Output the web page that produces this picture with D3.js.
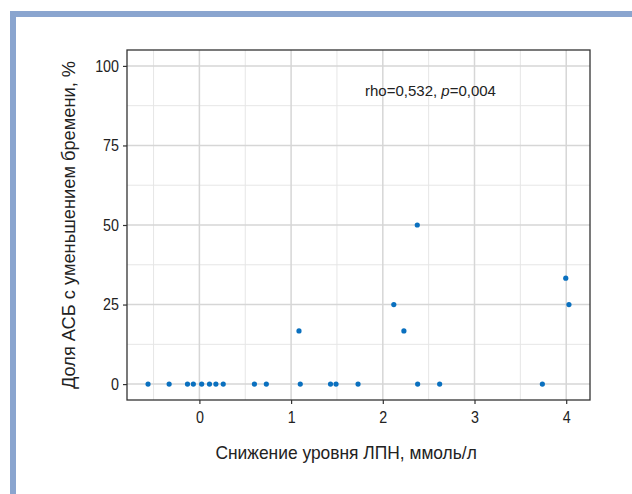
<!DOCTYPE html>
<html>
<head>
<meta charset="utf-8">
<script src="https://cdn.jsdelivr.net/npm/d3@7"></script>
<style>
  html, body { margin: 0; padding: 0; background: #fff; }
  svg text { font-family: "Liberation Sans", Arial, sans-serif; fill: #222; }
</style>
</head>
<body>
<svg id="chart" width="632" height="494"></svg>
<script>
// LDL reduction (mmol/L) per patient
const ldlDrop = [-0.56, -0.33, -0.13, -0.066, 0.025, 0.11, 0.18, 0.26, 0.60, 0.73,
                 1.10, 1.43, 1.49, 1.73, 2.38, 2.62, 3.74,
                 1.086, 2.12, 2.23, 2.376, 3.995, 4.03];
// Share of plaques with reduced burden (%)
const plaqueShare = [0, 0, 0, 0, 0, 0, 0, 0, 0, 0,
                     0, 0, 0, 0, 0, 0, 0,
                     16.7, 25, 16.7, 50, 33.3, 25];
const xTicks = [0, 1, 2, 3, 4];
const yTicks = [0, 25, 50, 75, 100];
const xMinor = [-0.5, 0.5, 1.5, 2.5, 3.5];
const yMinor = [12.5, 37.5, 62.5, 87.5];

const svg = d3.select("#chart");

// narrow the glyphs of a text element to a share of its natural width
function condense(sel, k) {
  sel.each(function () {
    const w = this.getComputedTextLength();
    d3.select(this).attr("textLength", w * k).attr("lengthAdjust", "spacingAndGlyphs");
  });
}

// decorative frame
svg.append("rect").attr("x", 13).attr("y", 14).attr("width", 640).attr("height", 500)
  .attr("fill", "none").attr("stroke", "#8aa5cf").attr("stroke-width", 6);

const panel = { left: 127, right: 590, top: 50, bottom: 400 };

const xr = d3.extent(ldlDrop);
const xPad = (xr[1] - xr[0]) * 0.05;
const x = d3.scaleLinear().domain([xr[0] - xPad, xr[1] + xPad]).range([panel.left, panel.right]);
const y = d3.scaleLinear().domain([-5, 105]).range([panel.bottom, panel.top]);

const g = svg.append("g");

// grid
g.selectAll(".vminor").data(xMinor).join("line")
  .attr("x1", d => x(d)).attr("x2", d => x(d)).attr("y1", panel.top).attr("y2", panel.bottom)
  .attr("stroke", "#e6e6e6").attr("stroke-width", 1);
g.selectAll(".hminor").data(yMinor).join("line")
  .attr("y1", d => y(d)).attr("y2", d => y(d)).attr("x1", panel.left).attr("x2", panel.right)
  .attr("stroke", "#e6e6e6").attr("stroke-width", 1);
g.selectAll(".vmajor").data(xTicks).join("line")
  .attr("x1", d => x(d)).attr("x2", d => x(d)).attr("y1", panel.top).attr("y2", panel.bottom)
  .attr("stroke", "#d6d6d6").attr("stroke-width", 1.5);
g.selectAll(".hmajor").data(yTicks).join("line")
  .attr("y1", d => y(d)).attr("y2", d => y(d)).attr("x1", panel.left).attr("x2", panel.right)
  .attr("stroke", "#d6d6d6").attr("stroke-width", 1.5);

// points
g.selectAll("circle").data(ldlDrop).join("circle")
  .attr("cx", d => x(d)).attr("cy", (d, i) => y(plaqueShare[i])).attr("r", 2.6)
  .attr("fill", "#0a70bf");

// panel border
g.append("rect").attr("x", panel.left).attr("y", panel.top)
  .attr("width", panel.right - panel.left).attr("height", panel.bottom - panel.top)
  .attr("fill", "none").attr("stroke", "#333").attr("stroke-width", 1.3);

// axes
const xAxis = svg.append("g").attr("transform", `translate(0,${panel.bottom})`)
  .call(d3.axisBottom(x).tickValues(xTicks).tickSize(4).tickPadding(7).tickFormat(d3.format("d")));
const yAxis = svg.append("g").attr("transform", `translate(${panel.left},0)`)
  .call(d3.axisLeft(y).tickValues(yTicks).tickSize(4).tickPadding(4).tickFormat(d3.format("d")));
[xAxis, yAxis].forEach(a => {
  a.select(".domain").remove();
  a.selectAll(".tick line").attr("stroke", "#333").attr("stroke-width", 1.2);
  a.selectAll(".tick text").attr("font-size", 17).attr("fill", "#333").call(condense, 0.84);
});

// axis titles
svg.append("text").attr("x", x(1.6)).attr("y", 459).attr("text-anchor", "middle")
  .attr("font-size", 19).text("Снижение уровня ЛПН, ммоль/л").call(condense, 0.915);
svg.append("text").attr("transform", `translate(75,${y(50)}) rotate(-90)`)
  .attr("text-anchor", "middle").attr("font-size", 19)
  .text("Доля АСБ с уменьшением бремени, %").call(condense, 0.96);

// correlation annotation
const ann = svg.append("text").attr("x", x(2.52)).attr("y", y(90.5)).attr("text-anchor", "middle")
  .attr("font-size", 15);
ann.append("tspan").text("rho=0,532, ");
ann.append("tspan").attr("font-style", "italic").text("p");
ann.append("tspan").text("=0,004");
</script>
</body>
</html>
